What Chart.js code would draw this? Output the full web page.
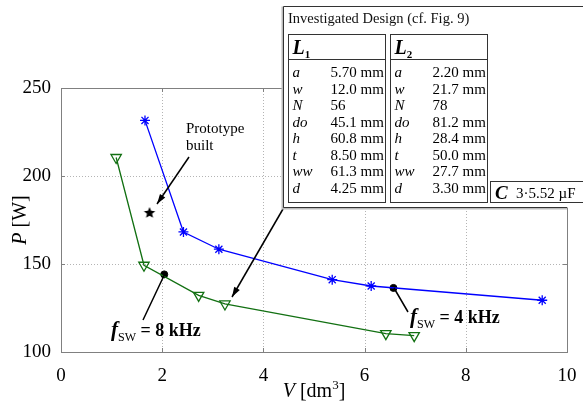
<!DOCTYPE html>
<html>
<head>
<meta charset="utf-8">
<script src="https://cdn.jsdelivr.net/npm/chart.js@4"></script>
<style>
  html, body { margin: 0; padding: 0; background: #fff; }
  canvas { display: block; }
</style>
</head>
<body>
<canvas id="chart" width="583" height="405"></canvas>
<script>
// volume in dm^3, losses in W
const volume4k = [1.66, 2.42, 3.12, 5.36, 6.13, 9.51]
const power4k = [231.6, 168.2, 158.4, 141.1, 137.5, 129.4]
const volume8k = [1.09, 1.64, 2.72, 3.24, 6.42, 6.98]
const power8k = [210.5, 149.3, 132.2, 127.3, 110.4, 109.3]
const designVolume = [6.57, 2.04]
const designPower = [136.4, 144.1]
const prototypeVolume = [1.75]
const prototypePower = [179]

const xTicks = [0, 2, 4, 6, 8, 10]
const yTicks = [100, 150, 200, 250]

const tableTitle = 'Investigated Design (cf. Fig. 9)'
const paramNames = ['a', 'w', 'N', 'do', 'h', 't', 'ww', 'd']
const l1Values = ['5.70 mm', '12.0 mm', '56', '45.1 mm', '60.8 mm', '8.50 mm', '61.3 mm', '4.25 mm']
const l2Values = ['2.20 mm', '21.7 mm', '78', '81.2 mm', '28.4 mm', '50.0 mm', '27.7 mm', '3.30 mm']
const capValue = '3\u00b75.52 \u00b5F'

const SERIF = '"Liberation Serif", "Times New Roman", serif'

function pts (xs, ys) {
  return xs.map((x, i) => ({ x: x, y: ys[i] }))
}

// filled five pointed star for the prototype marker
function starCanvas (r) {
  const c = document.createElement('canvas')
  c.width = c.height = 2 * r + 2
  const g = c.getContext('2d')
  g.beginPath()
  for (let i = 0; i < 10; i++) {
    const rr = i % 2 === 0 ? r : r * 0.45
    const ang = -Math.PI / 2 + i * Math.PI / 5
    const px = r + 1 + rr * Math.cos(ang)
    const py = r + 1 + rr * Math.sin(ang)
    if (i === 0) g.moveTo(px, py); else g.lineTo(px, py)
  }
  g.closePath()
  g.fillStyle = '#000'
  g.fill()
  return c
}

// draws a run of text pieces with own font and vertical shift
function richText (ctx, parts, x, y, align) {
  let total = 0
  parts.forEach(p => { ctx.font = p.font; p.w = ctx.measureText(p.t).width; total += p.w })
  let cx = align === 'center' ? x - total / 2 : x
  ctx.textAlign = 'left'
  ctx.textBaseline = 'alphabetic'
  parts.forEach(p => {
    ctx.font = p.font
    ctx.fillText(p.t, cx, y + (p.dy || 0))
    cx += p.w
  })
}

function arrow (ctx, x1, y1, x2, y2) {
  ctx.beginPath()
  ctx.moveTo(x1, y1)
  ctx.lineTo(x2, y2)
  ctx.stroke()
  const ang = Math.atan2(y2 - y1, x2 - x1)
  const len = 10, half = 3.2
  ctx.beginPath()
  ctx.moveTo(x2, y2)
  ctx.lineTo(x2 - len * Math.cos(ang) + half * Math.sin(ang), y2 - len * Math.sin(ang) - half * Math.cos(ang))
  ctx.lineTo(x2 - len * Math.cos(ang) - half * Math.sin(ang), y2 - len * Math.sin(ang) + half * Math.cos(ang))
  ctx.closePath()
  ctx.fill()
}

function drawTable (ctx) {
  const left = 283.5, top = 6.5, bottom = 207.5
  ctx.fillStyle = '#fff'
  ctx.fillRect(left, top, 600 - left, bottom - top)
  ctx.strokeStyle = '#bbb'
  ctx.lineWidth = 2
  ctx.beginPath()
  ctx.moveTo(left - 1, top)
  ctx.lineTo(left - 1, bottom + 1)
  ctx.lineTo(567, bottom + 1)
  ctx.stroke()
  ctx.strokeStyle = '#333'
  ctx.lineWidth = 1
  ctx.beginPath()
  ctx.moveTo(600, top)
  ctx.lineTo(left, top)
  ctx.lineTo(left, bottom)
  ctx.lineTo(567, bottom)
  ctx.stroke()

  ctx.fillStyle = '#111'
  ctx.font = '14.5px ' + SERIF
  ctx.textAlign = 'left'
  ctx.textBaseline = 'middle'
  ctx.fillText(tableTitle, 288, 19)

  const boxes = [
    { x: 288.5, sub: '1', vals: l1Values },
    { x: 390.5, sub: '2', vals: l2Values }
  ]
  boxes.forEach(b => {
    ctx.strokeStyle = '#333'
    ctx.strokeRect(b.x, 34.5, 97, 168)
    ctx.beginPath()
    ctx.moveTo(b.x, 59.5)
    ctx.lineTo(b.x + 97, 59.5)
    ctx.stroke()
    ctx.fillStyle = '#000'
    richText(ctx, [
      { t: 'L', font: 'bold italic 20px ' + SERIF },
      { t: b.sub, font: 'bold 11px ' + SERIF, dy: 4 }
    ], b.x + 4, 54, 'left')
    ctx.textBaseline = 'middle'
    paramNames.forEach((p, i) => {
      const y = 73.5 + i * 16.5
      ctx.font = 'italic 15px ' + SERIF
      ctx.fillText(p, b.x + 4, y)
      ctx.font = '15px ' + SERIF
      ctx.fillText(b.vals[i], b.x + 42, y)
    })
  })

  ctx.strokeStyle = '#333'
  ctx.strokeRect(490.5, 181.5, 110, 21)
  ctx.fillStyle = '#000'
  richText(ctx, [{ t: 'C', font: 'bold italic 19px ' + SERIF }], 495, 199, 'left')
  richText(ctx, [{ t: capValue, font: '15px ' + SERIF }], 516, 198, 'left')
}

// dotted grid like the original figure
const dottedGrid = {
  id: 'dottedGrid',
  beforeDatasetsDraw (chart) {
    const ctx = chart.ctx
    const a = chart.chartArea
    const sx = chart.scales.x, sy = chart.scales.y
    ctx.save()
    ctx.strokeStyle = '#b4b4b4'
    ctx.lineWidth = 1
    ctx.setLineDash([1, 2])
    ctx.beginPath()
    xTicks.forEach(v => {
      const px = Math.round(sx.getPixelForValue(v)) + 0.5
      ctx.moveTo(px, a.top); ctx.lineTo(px, a.bottom)
    })
    yTicks.forEach(v => {
      const py = Math.round(sy.getPixelForValue(v)) + 0.5
      ctx.moveTo(a.left, py); ctx.lineTo(a.right, py)
    })
    ctx.stroke()
    ctx.restore()
  }
}

const decor = {
  id: 'decor',
  afterDraw (chart) {
    const ctx = chart.ctx
    const a = chart.chartArea
    const sx = chart.scales.x, sy = chart.scales.y
    ctx.save()
    ctx.strokeStyle = '#808080'
    ctx.lineWidth = 1
    ctx.strokeRect(Math.round(a.left) + 0.5, Math.round(a.top) + 0.5, Math.round(a.right - a.left), Math.round(a.bottom - a.top))

    // small inward ticks
    ctx.beginPath()
    xTicks.forEach(v => {
      const px = Math.round(sx.getPixelForValue(v)) + 0.5
      ctx.moveTo(px, a.bottom); ctx.lineTo(px, a.bottom - 4)
      ctx.moveTo(px, a.top); ctx.lineTo(px, a.top + 4)
    })
    yTicks.forEach(v => {
      const py = Math.round(sy.getPixelForValue(v)) + 0.5
      ctx.moveTo(a.left, py); ctx.lineTo(a.left + 4, py)
      ctx.moveTo(a.right, py); ctx.lineTo(a.right - 4, py)
    })
    ctx.stroke()

    // axis titles
    ctx.fillStyle = '#000'
    richText(ctx, [
      { t: 'V', font: 'italic 20px ' + SERIF },
      { t: ' [dm', font: '20px ' + SERIF },
      { t: '3', font: '13px ' + SERIF, dy: -8 },
      { t: ']', font: '20px ' + SERIF }
    ], (a.left + a.right) / 2, 397, 'center')
    ctx.save()
    ctx.translate(26, (a.top + a.bottom) / 2)
    ctx.rotate(-Math.PI / 2)
    richText(ctx, [
      { t: 'P', font: 'italic 20px ' + SERIF },
      { t: ' [W]', font: '20px ' + SERIF }
    ], 0, 0, 'center')
    ctx.restore()

    // annotations
    ctx.strokeStyle = '#000'
    ctx.fillStyle = '#000'
    ctx.lineWidth = 1.5
    arrow(ctx, 189, 157, 157, 204)
    arrow(ctx, 283, 209, 232, 297)
    ctx.beginPath()
    ctx.moveTo(164.5, 274.5); ctx.lineTo(143, 320)
    ctx.moveTo(394, 288); ctx.lineTo(408, 312)
    ctx.stroke()

    ctx.textAlign = 'left'
    ctx.textBaseline = 'middle'
    ctx.font = '15px ' + SERIF
    ctx.fillText('Prototype', 186, 129)
    ctx.fillText('built', 186, 146)

    richText(ctx, [
      { t: 'f', font: 'bold italic 21px ' + SERIF },
      { t: 'SW', font: '12px ' + SERIF, dy: 5 },
      { t: ' = 8 kHz', font: 'bold 18px ' + SERIF }
    ], 111, 336, 'left')
    richText(ctx, [
      { t: 'f', font: 'bold italic 21px ' + SERIF },
      { t: 'SW', font: '12px ' + SERIF, dy: 5 },
      { t: ' = 4 kHz', font: 'bold 18px ' + SERIF }
    ], 410, 323, 'left')

    drawTable(ctx)
    ctx.restore()
  }
}

const ctx = document.getElementById('chart').getContext('2d')
new Chart(ctx, {
  type: 'scatter',
  data: {
    datasets: [
      {
        label: '4 kHz',
        data: pts(volume4k, power4k),
        showLine: true,
        borderColor: '#0000ff',
        borderWidth: 1.3,
        pointStyle: 'star',
        pointRadius: 5,
        pointBorderColor: '#0000ff',
        pointBorderWidth: 1.3,
        pointBackgroundColor: '#0000ff'
      },
      {
        label: '8 kHz',
        data: pts(volume8k, power8k),
        showLine: true,
        borderColor: '#127012',
        borderWidth: 1.3,
        pointStyle: 'triangle',
        pointRotation: 180,
        pointRadius: 6,
        pointBorderColor: '#127012',
        pointBorderWidth: 1.3,
        pointBackgroundColor: 'rgba(255,255,255,0)'
      },
      {
        label: 'design',
        data: pts(designVolume, designPower),
        showLine: false,
        pointStyle: 'circle',
        pointRadius: 3.5,
        pointBackgroundColor: '#000',
        pointBorderColor: '#000'
      },
      {
        label: 'prototype',
        data: pts(prototypeVolume, prototypePower),
        showLine: false,
        pointStyle: starCanvas(6)
      }
    ]
  },
  options: {
    responsive: false,
    animation: false,
    layout: { padding: { top: 88, right: 16, left: 0, bottom: 0 } },
    plugins: { legend: { display: false }, tooltip: { enabled: false } },
    scales: {
      x: {
        type: 'linear',
        min: 0,
        max: 10,
        afterFit: s => { s.height = 53 },
        afterBuildTicks: s => { s.ticks = xTicks.map(v => ({ value: v })) },
        grid: { display: false },
        border: { display: false },
        ticks: { color: '#000', padding: 5, font: { family: SERIF, size: 19 } }
      },
      y: {
        type: 'linear',
        min: 100,
        max: 250,
        afterFit: s => { s.width = 61 },
        afterBuildTicks: s => { s.ticks = yTicks.map(v => ({ value: v })) },
        grid: { display: false },
        border: { display: false },
        ticks: { color: '#000', padding: 2, font: { family: SERIF, size: 19 } }
      }
    }
  },
  plugins: [dottedGrid, decor]
})
</script>
</body>
</html>
